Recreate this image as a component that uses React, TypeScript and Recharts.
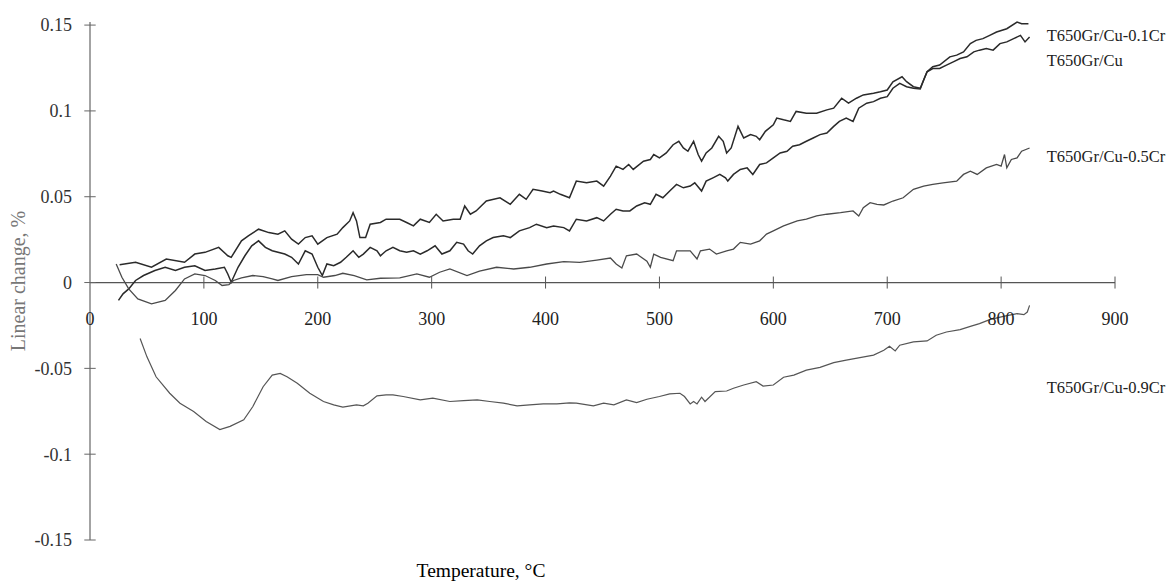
import { LineChart, Line, XAxis, YAxis, ReferenceLine, ReferenceDot } from 'recharts';

// T650Gr/Cu-0.1Cr (top curve)
const cr01Temp = [26, 40, 54, 67, 83, 92, 101, 113, 121, 124, 133, 139, 148, 157, 165, 171, 177, 183, 189, 195, 200, 208, 217, 222, 228, 231, 234, 237, 242, 246, 255, 260, 272, 278, 284, 290, 298, 304, 310, 319, 325, 329, 334, 339, 348, 360, 369, 377, 383, 389, 397, 404, 407, 413, 421, 427, 436, 445, 451, 457, 462, 468, 473, 477, 486, 492, 495, 500, 506, 512, 517, 521, 525, 530, 534, 537, 541, 546, 552, 556, 559, 563, 569, 574, 580, 585, 588, 593, 600, 603, 609, 615, 620, 629, 638, 647, 653, 660, 666, 673, 679, 688, 694, 700, 705, 713, 717, 723, 729, 735, 740, 746, 755, 761, 767, 773, 778, 784, 790, 796, 805, 814, 818, 824];
const cr01Change = [0.0104, 0.0118, 0.0089, 0.0137, 0.0118, 0.0166, 0.0176, 0.0205, 0.0156, 0.0147, 0.0243, 0.0272, 0.0311, 0.0291, 0.0282, 0.0301, 0.0253, 0.0224, 0.0262, 0.0272, 0.0224, 0.0262, 0.0282, 0.032, 0.0359, 0.0407, 0.0359, 0.0262, 0.0262, 0.034, 0.035, 0.0369, 0.0369, 0.035, 0.033, 0.0369, 0.035, 0.0398, 0.0359, 0.0369, 0.0369, 0.0446, 0.0398, 0.0417, 0.0475, 0.0494, 0.0456, 0.0514, 0.0485, 0.0543, 0.0533, 0.0523, 0.0533, 0.0514, 0.0494, 0.0591, 0.0581, 0.0591, 0.0562, 0.062, 0.0678, 0.0659, 0.0688, 0.0659, 0.0707, 0.0717, 0.0746, 0.0726, 0.0755, 0.0803, 0.0823, 0.0784, 0.0765, 0.0823, 0.0746, 0.0707, 0.0755, 0.0784, 0.0852, 0.0823, 0.0755, 0.0784, 0.091, 0.0842, 0.0862, 0.0852, 0.0832, 0.0881, 0.0919, 0.0958, 0.0948, 0.0939, 0.0997, 0.0987, 0.0987, 0.1006, 0.1016, 0.1074, 0.1045, 0.1074, 0.1093, 0.1103, 0.1112, 0.1122, 0.117, 0.1199, 0.117, 0.1141, 0.1132, 0.1228, 0.1257, 0.1267, 0.1315, 0.1325, 0.1344, 0.1392, 0.1411, 0.1421, 0.144, 0.146, 0.1479, 0.1518, 0.1508, 0.1508];

// T650Gr/Cu
const cuTemp = [25, 29, 34, 40, 47, 57, 66, 75, 83, 92, 101, 110, 118, 121, 124, 130, 136, 142, 148, 154, 160, 171, 177, 183, 189, 195, 200, 204, 208, 214, 220, 225, 231, 236, 240, 246, 252, 255, 260, 266, 272, 278, 284, 290, 296, 303, 309, 316, 322, 328, 332, 336, 342, 348, 354, 363, 369, 377, 386, 392, 401, 407, 416, 421, 427, 436, 445, 451, 457, 462, 468, 474, 480, 487, 492, 497, 503, 509, 515, 521, 527, 531, 537, 541, 547, 553, 558, 560, 565, 571, 577, 582, 588, 594, 600, 606, 612, 617, 623, 629, 635, 641, 647, 653, 658, 664, 670, 675, 682, 688, 694, 700, 705, 711, 717, 723, 729, 732, 735, 740, 746, 752, 758, 764, 770, 776, 781, 787, 793, 799, 805, 811, 817, 821, 825];
const cuChange = [-0.0104, -0.0066, -0.0037, 0.0012, 0.0041, 0.007, 0.0089, 0.007, 0.0089, 0.0098, 0.007, 0.0079, 0.0089, 0.005, 0.0002, 0.0089, 0.0156, 0.0214, 0.0243, 0.0205, 0.0185, 0.0166, 0.0147, 0.0108, 0.0185, 0.0166, 0.0089, 0.0041, 0.0108, 0.0098, 0.0118, 0.0147, 0.0185, 0.0147, 0.0166, 0.0205, 0.0185, 0.0156, 0.0185, 0.0205, 0.0185, 0.0176, 0.0185, 0.0166, 0.0185, 0.0214, 0.0166, 0.0185, 0.0234, 0.0224, 0.0185, 0.0166, 0.0214, 0.0243, 0.0262, 0.0272, 0.0262, 0.0301, 0.032, 0.034, 0.032, 0.033, 0.032, 0.0301, 0.0369, 0.0359, 0.0378, 0.0359, 0.0398, 0.0427, 0.0417, 0.0417, 0.0446, 0.0465, 0.0456, 0.0514, 0.0494, 0.0533, 0.0572, 0.0552, 0.0562, 0.0581, 0.0533, 0.0591, 0.061, 0.063, 0.061, 0.0591, 0.063, 0.0659, 0.0668, 0.063, 0.0688, 0.0697, 0.0726, 0.0755, 0.0765, 0.0794, 0.0803, 0.0823, 0.0842, 0.0862, 0.0871, 0.091, 0.0939, 0.0958, 0.0939, 0.1016, 0.1045, 0.1054, 0.1074, 0.1083, 0.1132, 0.1161, 0.1141, 0.1132, 0.1128, 0.118, 0.1228, 0.1247, 0.1247, 0.1267, 0.1286, 0.1305, 0.1315, 0.1344, 0.1354, 0.1363, 0.1354, 0.1392, 0.1402, 0.1421, 0.144, 0.1402, 0.1431];

// T650Gr/Cu-0.5Cr
const cr05Temp = [23, 28, 34, 42, 54, 66, 75, 83, 92, 101, 110, 116, 122, 126, 133, 143, 152, 160, 165, 177, 190, 200, 205, 215, 222, 232, 243, 255, 272, 287, 298, 307, 316, 331, 342, 357, 372, 386, 401, 416, 430, 445, 457, 462, 467, 471, 480, 489, 492, 495, 501, 512, 515, 527, 533, 536, 544, 550, 559, 565, 571, 580, 588, 594, 600, 609, 621, 629, 638, 647, 659, 670, 675, 679, 685, 691, 697, 705, 714, 723, 732, 740, 749, 761, 767, 773, 779, 787, 796, 800, 803, 805, 809, 814, 818, 825];
const cr05Change = [0.0108, 0.0031, -0.0037, -0.0095, -0.0124, -0.0104, -0.0046, 0.0021, 0.005, 0.0041, 0.0012, -0.0017, -0.0012, 0.0012, 0.0027, 0.0041, 0.0035, 0.0021, 0.0012, 0.0035, 0.0046, 0.0046, 0.0031, 0.0041, 0.0054, 0.004, 0.0016, 0.0025, 0.0027, 0.005, 0.0031, 0.006, 0.0079, 0.0041, 0.0066, 0.0089, 0.0079, 0.0089, 0.0108, 0.0122, 0.0118, 0.0131, 0.0143, 0.0108, 0.0085, 0.0156, 0.0166, 0.0125, 0.0089, 0.0166, 0.0147, 0.0127, 0.0185, 0.0185, 0.0137, 0.0185, 0.0195, 0.0166, 0.0185, 0.0195, 0.0234, 0.0224, 0.0243, 0.0282, 0.0301, 0.033, 0.0359, 0.0369, 0.0388, 0.0398, 0.0407, 0.0417, 0.0388, 0.0436, 0.0465, 0.0456, 0.0452, 0.0475, 0.0494, 0.0543, 0.0562, 0.0572, 0.0581, 0.0591, 0.063, 0.0649, 0.063, 0.0668, 0.0688, 0.0678, 0.0746, 0.0668, 0.0717, 0.0726, 0.0765, 0.0784];

// T650Gr/Cu-0.9Cr
const cr09Temp = [44, 50, 58, 70, 79, 91, 102, 114, 123, 135, 143, 152, 160, 167, 173, 182, 193, 205, 214, 222, 234, 240, 244, 252, 260, 266, 275, 290, 301, 316, 328, 340, 351, 363, 375, 386, 398, 410, 421, 427, 442, 451, 460, 471, 480, 489, 500, 509, 518, 522, 527, 530, 533, 537, 540, 549, 559, 565, 574, 585, 591, 600, 609, 618, 629, 641, 653, 664, 676, 688, 697, 702, 707, 711, 723, 735, 743, 752, 764, 773, 781, 790, 802, 814, 820, 823, 825];
const cr09Change = [-0.0326, -0.0433, -0.0549, -0.0645, -0.0703, -0.0751, -0.0809, -0.0857, -0.0838, -0.08, -0.0722, -0.0607, -0.0539, -0.0529, -0.0549, -0.0587, -0.0645, -0.0693, -0.0713, -0.0726, -0.0713, -0.0718, -0.0703, -0.066, -0.0655, -0.0655, -0.0664, -0.0684, -0.0674, -0.0693, -0.0688, -0.0684, -0.0693, -0.0703, -0.0718, -0.0713, -0.0707, -0.0707, -0.0701, -0.0703, -0.0718, -0.0703, -0.0713, -0.0684, -0.0699, -0.068, -0.0664, -0.0649, -0.0645, -0.0664, -0.0707, -0.0693, -0.0707, -0.0668, -0.0693, -0.0635, -0.0632, -0.0616, -0.0597, -0.0578, -0.0603, -0.0597, -0.0552, -0.0539, -0.051, -0.0494, -0.0467, -0.0452, -0.0437, -0.0423, -0.0394, -0.0371, -0.0398, -0.0365, -0.0346, -0.034, -0.0307, -0.0288, -0.0274, -0.0255, -0.0239, -0.0216, -0.0197, -0.0181, -0.0187, -0.0172, -0.0133];

const xTicks = [0, 100, 200, 300, 400, 500, 600, 700, 800, 900];
const yTicks = [-0.15, -0.1, -0.05, 0, 0.05, 0.1, 0.15];

// where the curve names sit (temperature, change)
const seriesLabels = ['T650Gr/Cu-0.1Cr', 'T650Gr/Cu', 'T650Gr/Cu-0.5Cr', 'T650Gr/Cu-0.9Cr'];
const labelTemp = [840, 840, 840, 840];
const labelChange = [0.1443, 0.1298, 0.0736, -0.0608];

const toRows = (temps: number[], values: number[]) => temps.map((t, i) => ({ t, v: values[i] }));

const FONT = '"Liberation Serif", "Times New Roman", serif';

const YTitle = (props: any) => {
    const { viewBox } = props;
    const cx = 18;
    const cy = viewBox.y + viewBox.height / 2;
    return (
        <text x={cx} y={cy} transform={`rotate(-90, ${cx}, ${cy})`} textAnchor="middle" dominantBaseline="central"
            fill="#777" fontSize={20} fontFamily={FONT}>Linear change, %</text>
    );
};

const XTitle = (props: any) => {
    const { viewBox } = props;
    return (
        <text x={viewBox.x + 391} y={viewBox.y + 37} textAnchor="middle" fill="#000" fontSize={19.5} fontFamily={FONT}>
            Temperature, °C
        </text>
    );
};

const series = [
    { name: 'T650Gr/Cu-0.1Cr', data: toRows(cr01Temp, cr01Change), color: '#2a2a2a', width: 1.5 },
    { name: 'T650Gr/Cu', data: toRows(cuTemp, cuChange), color: '#2a2a2a', width: 1.5 },
    { name: 'T650Gr/Cu-0.5Cr', data: toRows(cr05Temp, cr05Change), color: '#4a4a4a', width: 1.3 },
    { name: 'T650Gr/Cu-0.9Cr', data: toRows(cr09Temp, cr09Change), color: '#555', width: 1.2 },
];

export default function App() {
    return (
        <div style={{ position: 'absolute', left: 0, top: 0 }}>
            <LineChart width={1175} height={587} margin={{ top: 22, right: 60, left: 0, bottom: 0 }}>
                <XAxis type="number" dataKey="t" domain={[0, 900]} ticks={xTicks} axisLine={false} tickLine={false}
                    tick={false} height={47} label={{ content: XTitle }} />
                <YAxis type="number" domain={[-0.15, 0.15]} ticks={yTicks} width={90} tickLine={false} tickSize={6}
                    tickMargin={12} axisLine={{ stroke: '#666', strokeWidth: 1.2 }}
                    tick={{ fill: '#333', fontSize: 18, fontFamily: FONT }} label={{ content: YTitle }} />

                <ReferenceLine y={0} stroke="#555" strokeWidth={1.2} />
                {yTicks.map(v => (
                    <ReferenceLine key={'yt' + v} segment={[{ x: -5, y: v }, { x: 5, y: v }]} stroke="#666" ifOverflow="visible" />
                ))}
                {xTicks.filter(t => t > 0).map(t => (
                    <ReferenceLine key={'xt' + t} segment={[{ x: t, y: -0.0035 }, { x: t, y: 0.0035 }]} stroke="#555" ifOverflow="visible" />
                ))}
                {xTicks.map(t => (
                    <ReferenceDot key={'xl' + t} x={t} y={0} r={0} fill="none" stroke="none"
                        label={{ value: t, position: 'bottom', offset: 30, fill: '#222', fontSize: 18, fontFamily: FONT }} />
                ))}

                {series.map(s => (
                    <Line key={s.name} data={s.data} dataKey="v" name={s.name} type="linear" stroke={s.color}
                        strokeWidth={s.width} dot={false} activeDot={false} isAnimationActive={false} />
                ))}

                {seriesLabels.map((name, i) => (
                    <ReferenceDot key={name} x={labelTemp[i]} y={labelChange[i]} r={0} fill="none" stroke="none"
                        label={{ value: name, position: 'right', offset: 0, fill: '#222', fontSize: 16.5, fontFamily: FONT }} />
                ))}
            </LineChart>
        </div>
    );
}
